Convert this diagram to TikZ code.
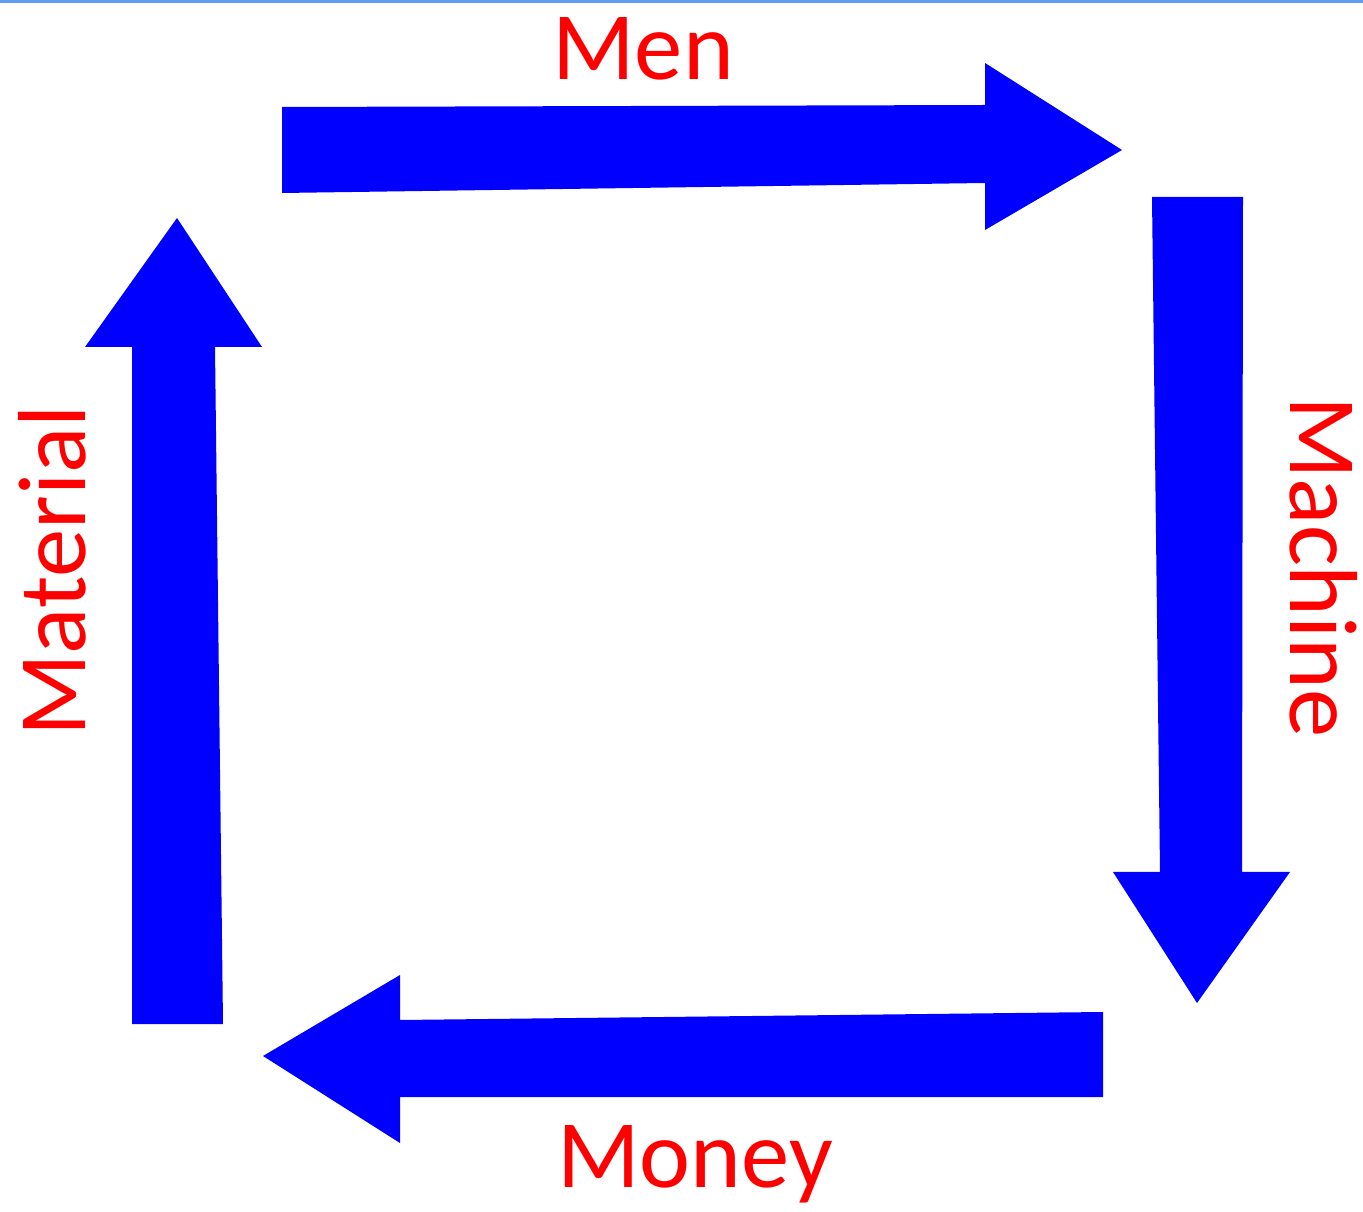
\documentclass[tikz,border=0pt]{standalone}
\usepackage{fontspec}
\setmainfont{Carlito}
\definecolor{arrowblue}{RGB}{0,0,255}
\definecolor{labelred}{RGB}{255,0,0}
\definecolor{edgeblue}{RGB}{95,155,240}
\begin{document}
\begin{tikzpicture}[x=0.02cm,y=-0.02cm,
  blockarrow/.style={fill=arrowblue,draw=none},
  lbl/.style={text=labelred,font=\fontsize{55}{60}\selectfont,inner sep=0pt,anchor=base}]
\useasboundingbox (0,0) rectangle (1363,1212);
\fill[white] (0,0) rectangle (1363,1212);
\fill[edgeblue] (0,0) rectangle (1363,3);
% top arrow (Men)
\fill[blockarrow] (282,107) -- (985,105) -- (985,63) -- (1122,150) -- (985,230) -- (985,183) -- (282,193) -- cycle;
% right arrow (Machine)
\fill[blockarrow] (1152,197) -- (1243,197) -- (1242,872) -- (1290,872) -- (1197,1003) -- (1113,872) -- (1160,872) -- cycle;
% bottom arrow (Money)
\fill[blockarrow] (1103,1012) -- (1103,1097) -- (400,1097) -- (400,1143) -- (263,1056) -- (400,975) -- (400,1020) -- cycle;
% left arrow (Material)
\fill[blockarrow] (132,1024) -- (223,1024) -- (215,347) -- (262,347) -- (177,218) -- (85,347) -- (132,347) -- cycle;
% labels
\node[lbl] (men) at (643,80) {Men};
\node[lbl] (money) at (695,1187) {Money};
\node[lbl,rotate=-90] (machine) at (1290,567) {Machine};
\node[lbl,rotate=90] (material) at (85,571) {Material};
\end{tikzpicture}
\end{document}
